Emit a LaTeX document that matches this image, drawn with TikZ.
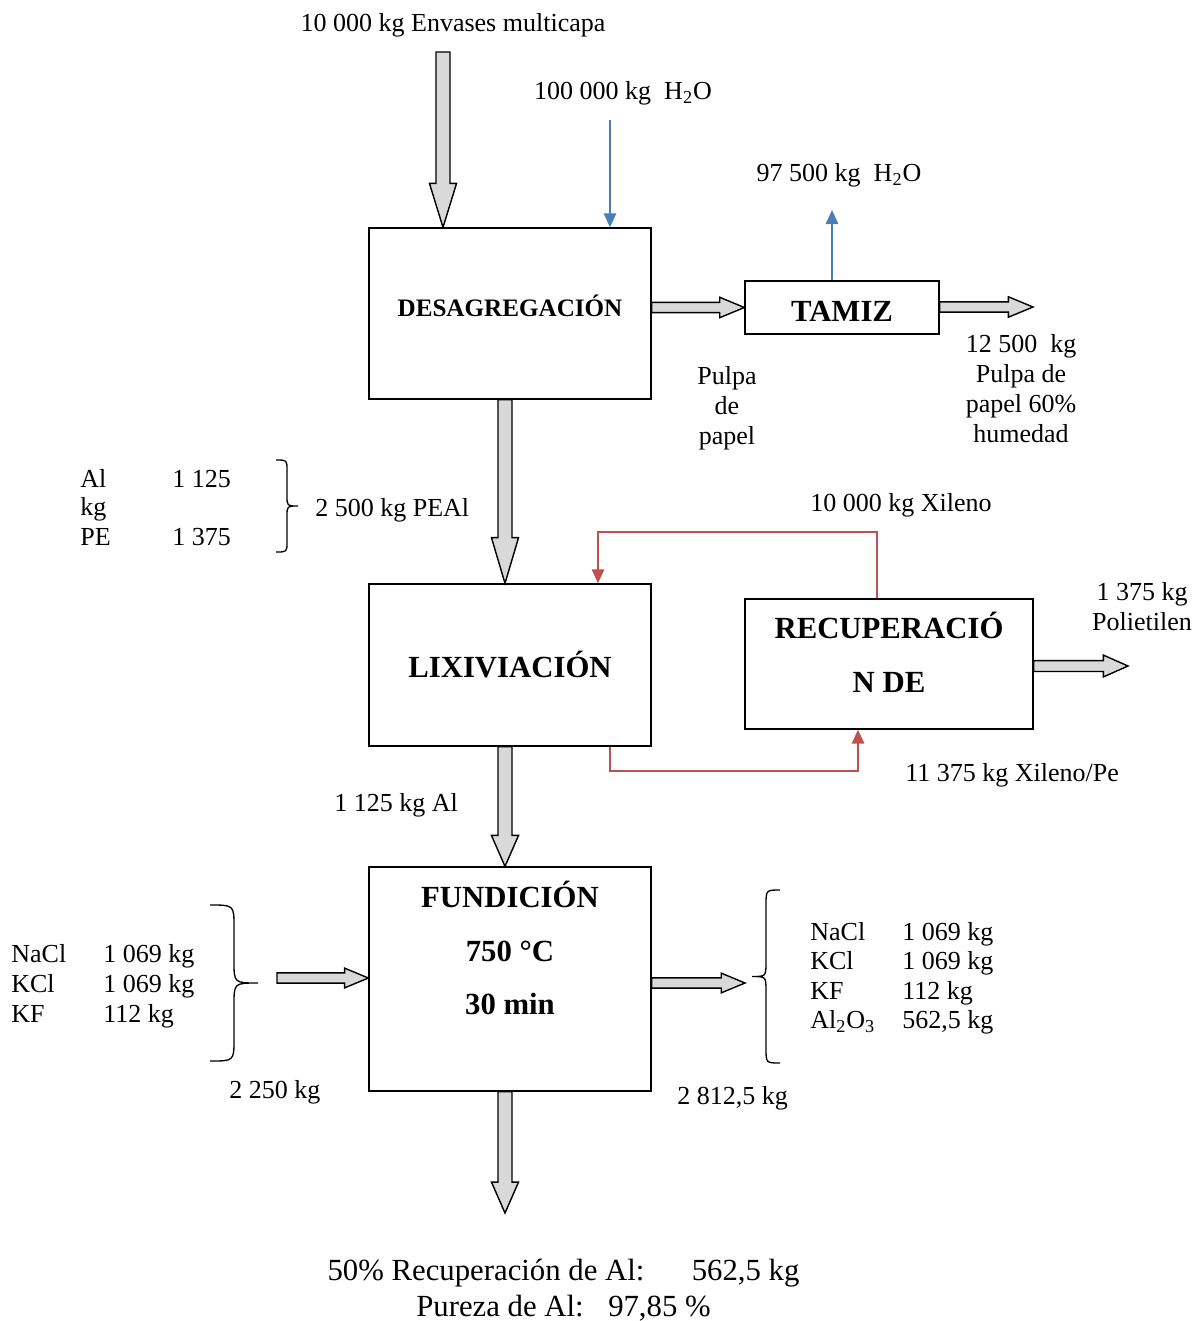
\documentclass[tikz,border=0pt]{standalone}
\usepackage{fontspec}
\setmainfont{Liberation Serif}
\usetikzlibrary{calc,arrows.meta,positioning}
\definecolor{azulagua}{HTML}{4A7EBB}
\definecolor{rojoxil}{HTML}{C0504D}

% flecha gruesa: desde, hasta, medio cuerpo, media punta, largo punta (pt)
\newcommand{\flecha}[5]{%
  \draw[bloque] let \p1=#1, \p2=#2, \n1={atan2(\y2-\y1,\x2-\x1)}, \n2={veclen(\x2-\x1,\y2-\y1)-#5pt} in
    ($(\p1)+(\n1+90:#3pt)$) -- ($(\p1)+(\n1:\n2)+(\n1+90:#3pt)$) -- ($(\p1)+(\n1:\n2)+(\n1+90:#4pt)$)
    -- (\p2) -- ($(\p1)+(\n1:\n2)+(\n1-90:#4pt)$) -- ($(\p1)+(\n1:\n2)+(\n1-90:#3pt)$)
    -- ($(\p1)+(\n1-90:#3pt)$) -- cycle;}
% llave: x, y arriba, y abajo, amplitud, radio
\newcommand{\llave}[5]{%
  \draw[line width=0.75pt] ({#1},{#2}) .. controls ({#1+0.5*(#4)},{#2}) .. ({#1+0.5*(#4)},{#2+#5})
    -- ({#1+0.5*(#4)},{(#2+#3)/2-#5}) .. controls ({#1+0.5*(#4)},{(#2+#3)/2}) .. ({#1+#4},{(#2+#3)/2})
    .. controls ({#1+0.5*(#4)},{(#2+#3)/2}) .. ({#1+0.5*(#4)},{(#2+#3)/2+#5})
    -- ({#1+0.5*(#4)},{#3-#5}) .. controls ({#1+0.5*(#4)},{#3}) .. ({#1},{#3});}

\begin{document}
\begin{tikzpicture}[x=0.02cm, y=-0.02cm, line join=miter,
    caja/.style={draw, line width=0.75pt, inner sep=0pt},
    titulo/.style={font=\fontsize{17.5}{30.7}\selectfont\bfseries, align=center, inner sep=0pt},
    texto/.style={font=\fontsize{14.8}{17.1}\selectfont, inner sep=0pt},
    bloque/.style={draw, line width=0.8pt, fill=gray!30},
    azul/.style={draw=azulagua, line width=1.2pt, -{Triangle[width=7pt,length=8pt]}},
    rojo/.style={draw=rojoxil, line width=1.2pt, -{Triangle[width=7pt,length=8pt]}}]
  \useasboundingbox (0,0) rectangle (1195,1321);
  % cajas
  \node[caja, minimum width=5.64cm, minimum height=3.42cm] (desag) at (510,313.5) {};
  \node[caja, minimum width=3.88cm, minimum height=1.06cm] (tamiz) at (842,307.5) {};
  \node[caja, minimum width=5.64cm, minimum height=3.24cm] (lix) at (510,665) {};
  \node[caja, minimum width=5.76cm, minimum height=2.6cm] (recup) at (889,664) {};
  \node[caja, minimum width=5.64cm, minimum height=4.48cm] (fund) at (510,979) {};
  \node[titulo, font=\fontsize{14.3}{17}\selectfont\bfseries, anchor=base] (tdesag) at (510,316) {DESAGREGACIÓN};
  \node[titulo, anchor=base] (ttamiz) at (842,321) {TAMIZ};
  \node[titulo, anchor=base] (tlix) at (510,677) {LIXIVIACIÓN};
  \node[titulo] (trecup) at (889,652) {RECUPERACIÓ\\N DE};
  \node[titulo] (tfund) at (510,948) {FUNDICIÓN\\750 °C\\30 min};
  % flechas gruesas
  \coordinate (envases) at (443,52);
  \coordinate (pulpasal) at (1033,307);
  \coordinate (polisal) at (1128,666);
  \coordinate (salesent) at (277,978);
  \coordinate (salessal) at (745,983);
  \coordinate (alsal) at (505,1213);
  \flecha{(envases)}{(envases |- desag.north)}{4}{7.7}{25}
  \flecha{($(desag.south)+(-5,0)$)}{($(lix.north)+(-5,0)$)}{4}{7.7}{26}
  \flecha{($(lix.south)+(-5,0)$)}{($(fund.north)+(-5,0)$)}{4}{7.7}{17.6}
  \flecha{($(fund.south)+(-5,0)$)}{(alsal)}{4}{7.7}{17.6}
  \flecha{(desag.east |- tamiz.west)}{(tamiz.west)}{2.9}{5.8}{14}
  \flecha{(tamiz.east |- pulpasal)}{(pulpasal)}{2.9}{5.8}{14}
  \flecha{(recup.east |- polisal)}{(polisal)}{3.1}{6.2}{14}
  \flecha{(salesent)}{(fund.west |- salesent)}{2.9}{5.6}{13.5}
  \flecha{(fund.east |- salessal)}{(salessal)}{2.9}{5.6}{13.5}
  % agua
  \coordinate (agua) at (610,120);
  \coordinate (vapor) at (832,210);
  \draw[azul] (agua) -- (agua |- desag.north);
  \draw[azul] (vapor |- tamiz.north) -- (vapor);
  % xileno
  \coordinate (r1) at (877,532);
  \coordinate (r2) at (610,771);
  \draw[rojo] (r1 |- recup.north) -- (r1) -| ($(lix.north)+(88,0)$);
  \draw[rojo] (r2 |- lix.south) -- (r2) -| ($(recup.south)+(-31,0)$);
  % llaves
  \llave{276}{460}{552}{22}{10}
  \llave{210}{905}{1061}{48}{22}
  \llave{780}{890}{1063}{-28}{15}
  % textos
  \node[texto, anchor=base] (tenv) at (453,32) {10 000 kg Envases multicapa};
  \node[texto, anchor=base] (tagua) at (623,100) {100 000 kg\ \ H\textsubscript{2}O};
  \node[texto, anchor=base] (tvapor) at (839,182) {97 500 kg\ \ H\textsubscript{2}O};
  \node[texto, align=center] (tpulpa) at (1021,389) {12 500\ \ kg\\Pulpa de\\papel 60\%\\humedad};
  \node[texto, align=center] (tpapel) at (727,408) {Pulpa\\de\\papel};
  \node[texto, anchor=base west] (tal) at (80,487) {Al};
  \node[texto, anchor=base west] (talv) at (172,487) {1 125};
  \node[texto, anchor=base west] (tkg) at (80,515) {kg};
  \node[texto, anchor=base west] (tpe) at (80,545) {PE};
  \node[texto, anchor=base west] (tpev) at (172,545) {1 375};
  \node[texto, anchor=base west] (tpeal) at (315,516) {2 500 kg PEAl};
  \node[texto, anchor=base west] (txil) at (810,511) {10 000 kg Xileno};
  \node[texto, align=center] (tpoli) at (1142,607) {1 375 kg\\Polietilen};
  \node[texto, anchor=base west] (txilpe) at (905,781) {11 375 kg Xileno/Pe};
  \node[texto, anchor=base west] (tal2) at (334,811) {1 125 kg Al};
  \foreach \nombre/\valor [count=\i] in {NaCl/1 069 kg, KCl/1 069 kg, KF/112 kg} {
    \node[texto, anchor=base west] (izq\i) at (11,{932+30*\i}) {\nombre};
    \node[texto, anchor=base west] (izqv\i) at (103,{932+30*\i}) {\valor};
  }
  \foreach \nombre/\valor [count=\i] in {NaCl/1 069 kg, KCl/1 069 kg, KF/112 kg, Al\textsubscript{2}O\textsubscript{3}/{562,5 kg}} {
    \node[texto, anchor=base west] (der\i) at (810,{910.5+29.5*\i}) {\nombre};
    \node[texto, anchor=base west] (derv\i) at (902,{910.5+29.5*\i}) {\valor};
  }
  \node[texto, anchor=base west] (tsal1) at (229,1098) {2 250 kg};
  \node[texto, anchor=base west] (tsal2) at (677,1104) {2 812,5 kg};
  \node[texto, font=\fontsize{17.5}{20.5}\selectfont, align=center] (tfinal) at (563.5,1290)
    {50\% Recuperación de Al:\hspace{27pt}562,5 kg\\Pureza de Al:\hspace{14pt}97,85 \%};
\end{tikzpicture}
\end{document}
